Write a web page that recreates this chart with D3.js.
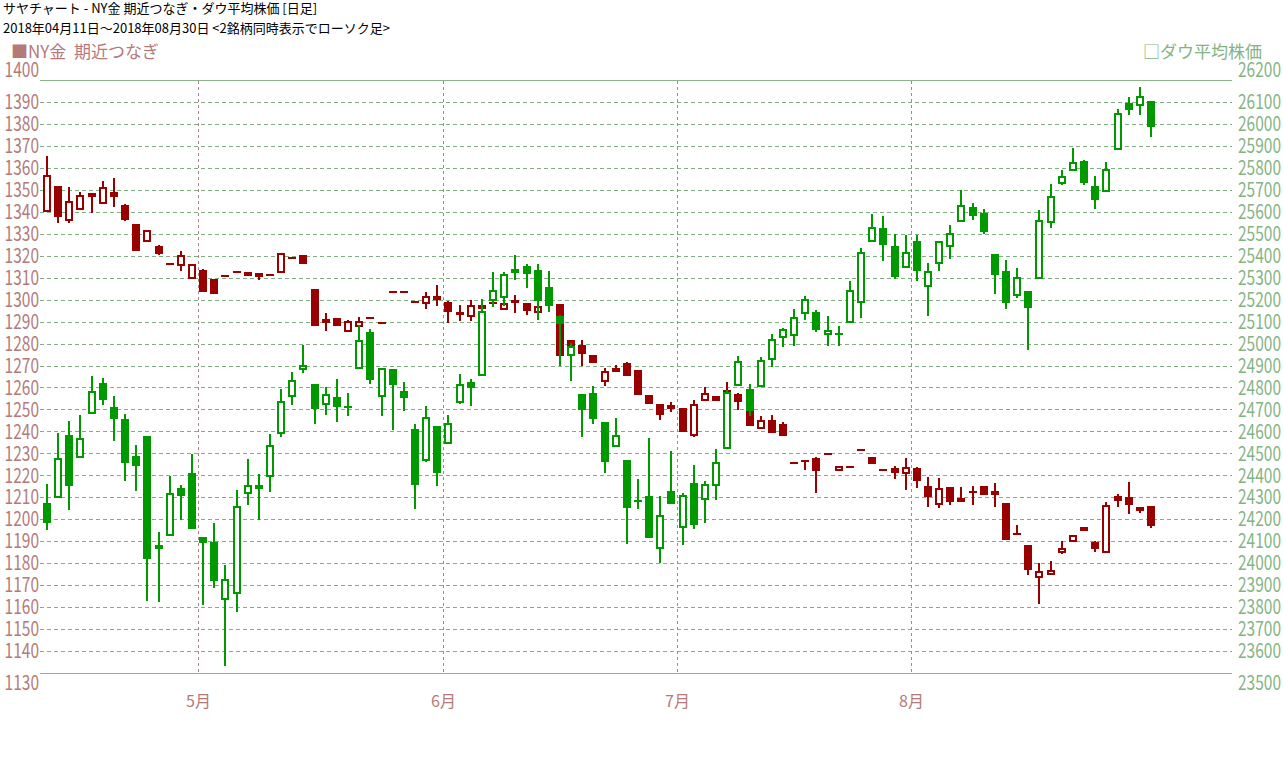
<!DOCTYPE html>
<html>
<head>
<meta charset="utf-8">
<script src="https://cdn.jsdelivr.net/npm/d3@7"></script>
<style>
body { margin: 0; background: #fff; }
text { font-family: "Noto Sans CJK JP", "Noto Sans", sans-serif; }
</style>
</head>
<body>
<svg id="chart" width="1283" height="773"></svg>
<script>
// trading days 2018
var dates = [
	"04/11","04/12","04/13","04/16","04/17","04/18","04/19","04/20","04/23","04/24","04/25","04/26","04/27","04/30",
	"05/01","05/02","05/03","05/04","05/07","05/08","05/09","05/10","05/11","05/14","05/15","05/16","05/17","05/18","05/21","05/22","05/23","05/24","05/25","05/29","05/30","05/31",
	"06/01","06/04","06/05","06/06","06/07","06/08","06/11","06/12","06/13","06/14","06/15","06/18","06/19","06/20","06/21","06/22","06/25","06/26","06/27","06/28","06/29",
	"07/02","07/03","07/05","07/06","07/09","07/10","07/11","07/12","07/13","07/16","07/17","07/18","07/19","07/20","07/23","07/24","07/25","07/26","07/27","07/30","07/31",
	"08/01","08/02","08/03","08/06","08/07","08/08","08/09","08/10","08/13","08/14","08/15","08/16","08/17","08/20","08/21","08/22","08/23","08/24","08/27","08/28","08/29","08/30"
];

// NY金 期近つなぎ
var goldOpen = [1340.3,1351.2,1336.2,1341.2,1348.0,1343.9,1348.6,1342.7,1334.1,1326.7,1324.1,1316.2,1315.8,1309.8,
	1313.2,1309.1,1310.8,1312.6,1311.2,1310.8,1311.2,1312.6,1318.9,1320.0,1304.5,1290.9,1291.4,1285.9,1288.0,1291.7,1289.4,1303.5,1303.5,1298.9,1298.5,1301.4,
	1298.6,1294.1,1292.6,1297.3,1298.6,1295.8,1299.4,1298.2,1294.4,1300.0,1297.7,1281.0,1279.1,1274.5,1263.0,1268.2,1270.9,1267.3,1255.9,1251.8,1251.4,
	1250.0,1238.3,1254.4,1255.8,1258.5,1256.4,1252.5,1241.7,1244.8,1243.0,1225.8,1226.7,1227.3,1229.8,1222.5,1223.9,1231.6,1228.1,1222.5,1222.7,1221.0,
	1223.0,1214.8,1207.0,1214.3,1208.2,1212.3,1214.8,1212.5,1207.0,1193.2,1187.8,1173.5,1174.9,1184.9,1189.9,1194.9,1189.0,1185.2,1210.1,1209.6,1204.9,1205.5];
var goldHigh = [1365.5,1351.2,1351.2,1348.9,1348.0,1354.1,1355.3,1343.6,1334.5,1331.8,1324.8,1316.2,1322.3,1316.4,
	1314.1,1309.4,1310.8,1312.6,1312.7,1312.1,1311.2,1320.8,1318.9,1320.0,1305.0,1294.1,1291.4,1290.5,1292.3,1291.7,1289.4,1303.5,1303.5,1298.9,1303.6,1306.8,
	1299.5,1297.4,1300.0,1300.5,1298.6,1298.0,1302.3,1298.2,1299.7,1301.0,1297.7,1281.0,1281.8,1274.5,1268.9,1270.3,1271.4,1267.3,1255.9,1251.8,1253.6,
	1250.0,1254.5,1260.0,1255.8,1262.6,1257.3,1252.5,1246.8,1247.4,1244.1,1225.8,1226.7,1228.2,1229.8,1223.9,1223.9,1231.6,1228.1,1222.5,1224.2,1227.9,
	1223.8,1219.3,1218.8,1214.3,1214.8,1215.2,1215.3,1216.6,1207.6,1197.4,1187.8,1179.9,1181.0,1190.1,1192.2,1196.6,1190.1,1207.8,1211.5,1216.9,1204.9,1205.5];
var goldLow = [1340.3,1334.8,1334.8,1341.2,1339.4,1343.9,1342.0,1335.6,1322.4,1326.7,1320.2,1316.2,1313.0,1309.8,
	1303.8,1302.9,1310.8,1312.6,1310.6,1308.8,1311.2,1312.6,1318.9,1316.5,1288.6,1285.6,1288.3,1285.9,1288.0,1291.7,1289.4,1303.5,1303.5,1298.9,1295.6,1297.0,
	1289.2,1290.2,1290.2,1296.0,1298.6,1295.8,1293.8,1292.9,1290.9,1297.6,1274.7,1278.0,1270.0,1271.5,1260.6,1267.4,1265.6,1257.0,1252.9,1245.2,1248.8,
	1240.2,1237.4,1253.8,1254.2,1258.5,1249.7,1242.9,1241.7,1239.7,1238.2,1225.8,1222.4,1211.8,1229.8,1222.5,1223.9,1231.6,1225.6,1222.5,1218.4,1213.1,
	1214.4,1205.8,1205.3,1206.7,1208.2,1206.3,1211.7,1205.8,1191.2,1193.2,1174.7,1161.5,1174.9,1184.3,1189.9,1194.9,1185.2,1185.2,1205.4,1202.5,1202.8,1196.1];
var goldClose = [1356.4,1338.3,1344.4,1347.1,1347.4,1350.8,1347.0,1336.5,1322.4,1331.4,1321.1,1316.2,1319.8,1315.8,
	1303.8,1302.9,1310.8,1312.6,1312.1,1311.7,1311.2,1320.8,1318.9,1316.5,1288.6,1290.0,1288.3,1289.8,1289.8,1291.7,1289.4,1303.5,1303.5,1298.9,1301.2,1300.2,
	1294.7,1293.3,1297.1,1296.4,1298.6,1298.0,1298.8,1295.2,1296.7,1298.0,1274.7,1278.5,1275.6,1271.5,1267.1,1267.4,1265.6,1257.0,1252.9,1247.9,1250.6,
	1240.2,1251.8,1257.1,1254.2,1258.5,1253.8,1242.9,1244.8,1239.7,1238.2,1225.8,1226.7,1222.4,1229.8,1223.9,1223.9,1231.6,1225.6,1222.5,1221.5,1223.2,
	1218.1,1210.8,1213.7,1208.5,1209.2,1212.3,1211.7,1211.3,1191.2,1193.2,1177.3,1175.8,1176.3,1186.3,1192.2,1195.8,1187.0,1206.0,1208.9,1207.1,1204.3,1197.5];

// ダウ平均株価
var dowOpen = [24270,24302,24581,24484,24685,24817,24707,24653,24484,24575,24070,24129,24339,24407,
	24116,24094,23838,23865,24320,24343,24398,24594,24761,24884,24813,24725,24752,24711,24889,25048,24761,24880,24779,24606,24472,24618,
	24545,24734,24820,24857,25198,25212,25336,25348,25332,25254,25121,24948,24766,24772,24640,24533,24467,24283,24301,24069,24324,
	24165,24360,24292,24356,24524,24811,24790,24807,24930,25030,25039,25139,25139,25043,25043,25098,25190,25469,25522,25441,25349,
	25463,25263,25368,25445,25559,25618,25591,25404,25327,25222,25236,25299,25554,25731,25790,25827,25713,25695,25886,26091,26088,26100];
var dowHigh = [24361,24592,24647,24674,24852,24845,24759,24679,24536,24575,24143,24398,24358,24497,
	24116,24184,23994,24331,24475,24407,24586,24791,24872,24993,24813,24804,24840,24775,25086,25068,24889,24880,24825,24633,24715,24618,
	24674,24861,24839,25203,25327,25327,25405,25364,25362,25332,25131,25004,24766,24808,24640,24663,24467,24385,24571,24307,24512,
	24321,24447,24374,24520,24790,24945,24817,24940,25045,25071,25157,25216,25153,25125,25080,25285,25436,25588,25583,25500,25492,
	25492,25365,25469,25542,25697,25638,25614,25404,25381,25342,25236,25609,25727,25792,25892,25837,25765,25828,26068,26123,26170,26100];
var dowLow = [24149,24302,24242,24480,24685,24721,24556,24374,24328,23827,23823,24129,24196,24160,
	23809,23888,23531,23777,24264,24198,24325,24574,24719,24864,24634,24676,24641,24669,24889,24814,24669,24608,24691,24248,24462,24351,
	24545,24723,24714,24857,25165,25169,25291,25251,25109,25144,24896,24828,24574,24634,24411,24533,24086,24245,24118,24001,24274,
	24081,24154,24184,24288,24524,24811,24669,24807,24892,24983,24990,25106,25054,24987,24987,25098,25116,25465,25375,25295,25349,
	25284,25125,25330,25386,25559,25562,25500,25227,25158,25208,24970,25299,25527,25721,25790,25724,25611,25695,25886,26039,26039,25939];
var dowClose = [24187,24475,24355,24566,24780,24747,24660,24460,24446,24023,24079,24316,24311,24160,
	24096,23924,23924,24255,24351,24351,24534,24735,24829,24898,24705,24766,24714,24711,25012,24837,24884,24814,24755,24361,24663,24416,
	24632,24811,24802,25144,25239,25312,25324,25321,25200,25174,25093,24984,24700,24659,24464,24579,24254,24283,24118,24215,24274,
	24306,24177,24354,24456,24775,24916,24699,24920,25016,25062,25116,25198,25065,25057,25043,25239,25413,25527,25453,25307,25413,
	25336,25327,25463,25500,25627,25586,25512,25316,25190,25299,25167,25559,25668,25759,25821,25734,25657,25790,26045,26068,26123,25989];

var goldTicks = d3.range(1130, 1401, 10);
var dowTicks = d3.range(23500, 26201, 100);

var goldColor = "#990000",
	dowColor = "#009900",
	redText = "#b47a7a",
	greenText = "#84b484",
	gridColor = "#80b080";

var svg = d3.select("#chart"),
	plotLeft = 40, plotRight = 1232, plotTop = 80, plotBottom = 673;

var x = d3.scalePoint().domain(dates).range([47, 1151]);
var yGold = d3.scaleLinear().domain([1130, 1400]).range([plotBottom, plotTop]);
var yDow = d3.scaleLinear().domain([23500, 26200]).range([plotBottom, plotTop]);

// titles
svg.append("text").attr("x", 3).attr("y", 13).attr("font-size", 13).attr("fill", "#000")
	.text("サヤチャート - NY金 期近つなぎ・ダウ平均株価 [日足]");
svg.append("text").attr("x", 3).attr("y", 33).attr("font-size", 13).attr("fill", "#000")
	.text("2018年04月11日～2018年08月30日 <2銘柄同時表示でローソク足>");

svg.append("text").attr("x", 11).attr("y", 58).attr("font-size", 17).attr("fill", redText)
	.text("■NY金\u00a0\u00a0期近つなぎ");
svg.append("text").attr("x", 1262).attr("y", 58).attr("font-size", 17).attr("fill", greenText)
	.attr("text-anchor", "end").text("□ダウ平均株価");

// grid
var grid = svg.append("g");
grid.selectAll("line").data(goldTicks).enter().append("line")
	.attr("x1", plotLeft).attr("x2", plotRight)
	.attr("y1", function(d) { return Math.round(yGold(d)) + 0.5; })
	.attr("y2", function(d) { return Math.round(yGold(d)) + 0.5; })
	.attr("stroke", function(d) { return (d == 1130 || d == 1400) ? "#8ab48a" : gridColor; })
	.attr("stroke-dasharray", function(d) { return (d == 1130 || d == 1400) ? null : "4,3"; });

// month lines
var months = [];
dates.forEach(function(d, i) {
	if (i > 0 && d.slice(0, 2) != dates[i - 1].slice(0, 2))
		months.push({ m: +d.slice(0, 2), x: Math.round((x(dates[i - 1]) + x(d)) / 2) + 0.5 });
});
grid.selectAll(".mon").data(months).enter().append("line")
	.attr("x1", function(d) { return d.x; }).attr("x2", function(d) { return d.x; })
	.attr("y1", plotTop + 1).attr("y2", plotBottom)
	.attr("stroke", "#b88080").attr("stroke-dasharray", "3,3");
svg.selectAll(".mlab").data(months).enter().append("text")
	.attr("x", function(d) { return d.x; }).attr("y", 707)
	.attr("text-anchor", "middle").attr("font-size", 16).attr("fill", redText)
	.text(function(d) { return d.m + "月"; });

// axis labels
function axisLabels(ticks, scale, xpos, anchor, color, lo, hi) {
	svg.append("g").selectAll("text").data(ticks).enter().append("text")
		.attr("x", xpos)
		.attr("y", function(d) {
			var yy = scale(d);
			if (d == lo) yy += 10;
			if (d == hi) yy -= 10;
			return yy;
		})
		.attr("dy", "0.36em")
		.attr("text-anchor", anchor)
		.attr("font-size", 20)
		.attr("fill", color)
		.attr("textLength", function(d) { return String(d).length * 8.6; })
		.attr("lengthAdjust", "spacingAndGlyphs")
		.text(function(d) { return d; });
}
axisLabels(goldTicks, yGold, 39, "end", redText, 1130, 1400);
axisLabels(dowTicks, yDow, 1238, "start", greenText, 23500, 26200);

function drawCandles(o, h, l, c, y, color) {
	var data = dates.map(function(d, i) {
		return { d: d, o: o[i], h: h[i], l: l[i], c: c[i] };
	});
	var cg = svg.append("g").selectAll("g").data(data).enter().append("g");
	cg.append("line")
		.attr("x1", function(d) { return Math.round(x(d.d)); })
		.attr("x2", function(d) { return Math.round(x(d.d)); })
		.attr("y1", function(d) { return Math.round(y(d.h)); })
		.attr("y2", function(d) { return Math.round(y(d.l)); })
		.attr("stroke", color).attr("stroke-width", 2);
	// a zero-height body (doji) still needs its stroke, so keep a tiny height
	cg.append("rect")
		.attr("x", function(d) { return Math.round(x(d.d)) - 3; })
		.attr("width", 6)
		.attr("y", function(d) { return Math.round(y(Math.max(d.o, d.c))); })
		.attr("height", function(d) {
			var hgt = Math.round(y(Math.min(d.o, d.c))) - Math.round(y(Math.max(d.o, d.c)));
			return Math.max(hgt, 0.01);
		})
		.attr("fill", function(d) { return d.c >= d.o ? "#fff" : color; })
		.attr("stroke", color).attr("stroke-width", 2);
}

drawCandles(goldOpen, goldHigh, goldLow, goldClose, yGold, goldColor);
drawCandles(dowOpen, dowHigh, dowLow, dowClose, yDow, dowColor);
</script>
</body>
</html>
